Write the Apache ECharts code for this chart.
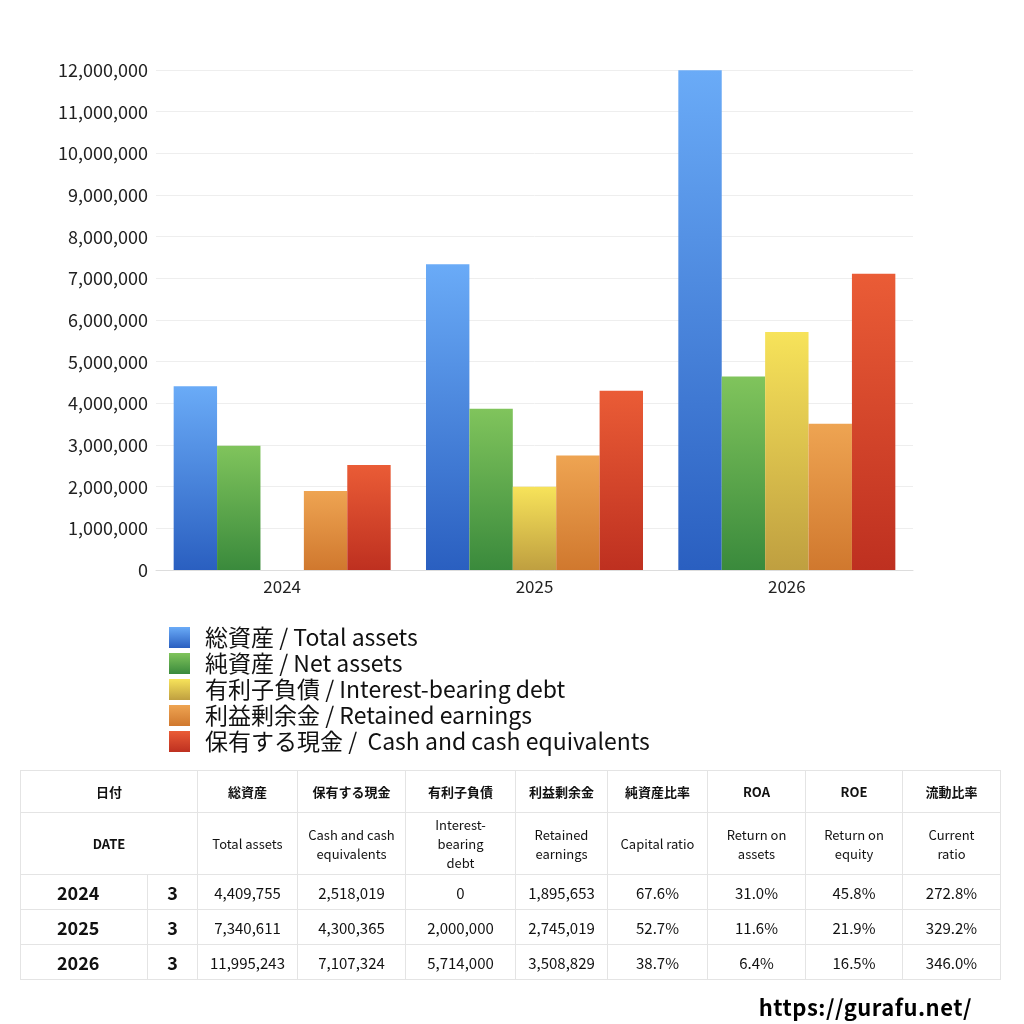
<!DOCTYPE html>
<html><head><meta charset="utf-8">
<script src="https://cdn.jsdelivr.net/npm/echarts@6/dist/echarts.min.js"></script>
<style>
body{margin:0;background:#fff;font-family:"Noto Sans CJK JP","Noto Sans",sans-serif;}
#c{width:1024px;height:1024px;position:absolute;left:0;top:0;}
#t{position:absolute;left:20px;top:770px;border-collapse:collapse;font-size:13px;color:#111;table-layout:fixed;width:980px;}
#t td{border:1px solid #e4e4e4;text-align:center;padding:0;}
#u{position:absolute;right:52px;top:990px;font-size:22px;font-weight:bold;letter-spacing:0.5px;}
</style></head><body>
<div id="c"></div>
<table id="t"></table>
<div id="u">https://gurafu.net/</div>
<script>
const years=['2024','2025','2026'];
const seriesNames=['総資産 / Total assets','純資産 / Net assets','有利子負債 / Interest-bearing debt','利益剰余金 / Retained earnings','保有する現金 /  Cash and cash equivalents'];
const totalAssets=[4409755,7340611,11995243];
const netAssets=[2981000,3868500,4642000];
const debt=[0,2000000,5714000];
const retained=[1895653,2745019,3508829];
const cash=[2518019,4300365,7107324];
const months=['3','3','3'];
const capitalRatio=['67.6%','52.7%','38.7%'];
const roa=['31.0%','11.6%','6.4%'];
const roe=['45.8%','21.9%','16.5%'];
const currentRatio=['272.8%','329.2%','346.0%'];
const headJa=['日付','総資産','保有する現金','有利子負債','利益剰余金','純資産比率','ROA','ROE','流動比率'];
const headEn=['DATE','Total assets','Cash and cash<br>equivalents','Interest-<br>bearing<br>debt','Retained<br>earnings','Capital ratio','Return on<br>assets','Return on<br>equity','Current<br>ratio'];
const cols=[[ '#6aabf7','#2a5fc0'],['#80c45c','#3a8a3c'],['#f7e35a','#bf9f40'],['#eea452','#d0782e'],['#ea5c36','#be3020']];
const data=[totalAssets,netAssets,debt,retained,cash];
const ch=echarts.init(document.getElementById('c'));
ch.setOption({
 animation:false,
 textStyle:{fontFamily:'"Noto Sans CJK JP","Noto Sans",sans-serif'},
 grid:{left:156,right:111,top:70,height:500},
 legend:{orient:'vertical',left:164,top:621,icon:'rect',itemWidth:21,itemHeight:21,itemGap:3,textStyle:{fontSize:23,color:'#111',padding:[0,0,0,10]},data:seriesNames},
 xAxis:{type:'category',data:years,axisTick:{show:false},axisLine:{lineStyle:{color:'#ddd'}},axisLabel:{fontSize:17,color:'#222'}},
 yAxis:{type:'value',min:0,max:12000000,interval:1000000,axisLabel:{fontSize:18,color:'#222',formatter:v=>v.toLocaleString('en-US')},splitLine:{lineStyle:{color:'#eee'}}},
 series:seriesNames.map((n,i)=>({name:n,type:'bar',data:data[i],barGap:'0%',barCategoryGap:'14%',
   itemStyle:{color:new echarts.graphic.LinearGradient(0,0,0,1,[{offset:0,color:cols[i][0]},{offset:1,color:cols[i][1]}])}}))
});
const fmt=v=>v.toLocaleString('en-US');
const w=[127,50,100,108,110,92,100,98,97,98];
let h='<colgroup>'+w.map(x=>`<col style="width:${x}px">`).join('')+'</colgroup>';
h+='<tr style="height:42px;font-weight:bold">';
h+=`<td colspan=2>${headJa[0]}</td>`;
for(let i=1;i<headJa.length;i++)h+=`<td>${headJa[i]}</td>`;
h+='</tr><tr style="height:62px">';
h+=`<td colspan=2 style="font-weight:bold">${headEn[0]}</td>`;
for(let i=1;i<headEn.length;i++)h+=`<td>${headEn[i]}</td>`;
h+='</tr>';
for(let r=0;r<3;r++){
 h+=`<tr style="height:35px;font-size:15px"><td style="font-size:18px;font-weight:bold;text-align:left;padding-left:36px">${years[r]}</td><td style="font-size:18px;font-weight:bold">${months[r]}</td>`;
 [totalAssets[r],cash[r],debt[r],retained[r]].forEach(v=>h+=`<td>${fmt(v)}</td>`);
 [capitalRatio[r],roa[r],roe[r],currentRatio[r]].forEach(v=>h+=`<td>${v}</td>`);
 h+='</tr>';
}
document.getElementById('t').innerHTML=h;
</script></body></html>
